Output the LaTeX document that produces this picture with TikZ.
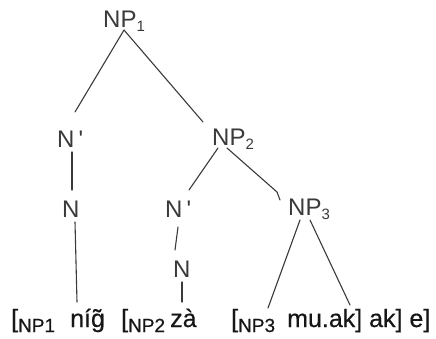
\documentclass[tikz,border=0pt]{standalone}
\usepackage{fontspec}
\setmainfont{Liberation Sans}
\newfontfamily\printface[FakeBold=0.5]{Liberation Sans}
\usetikzlibrary{calc}
\definecolor{ink}{HTML}{3A3A3A}
\definecolor{print}{HTML}{161616}
% small lowered index for the tree labels
\newcommand\treeidx[1]{\raisebox{-0.18em}{\fontsize{15}{15}\selectfont #1}}
% index inside the bracketed string
\newcommand\brkidx[1]{\raisebox{-5pt}{\fontsize{19}{19}\selectfont #1}}
\begin{document}
\begin{tikzpicture}[x=1pt,y=-1pt,
  lab/.style={inner sep=0pt,anchor=base west,text=ink,
    font=\fontsize{24}{24}\selectfont},
  word/.style={inner sep=0pt,anchor=base west,text=print,
    font=\printface\fontsize{25}{25}\selectfont},
  branch/.style={draw=ink,line width=1.1pt,line cap=round,line join=round}]
\useasboundingbox (0,0) rectangle (436,338);

% tree labels
\node[lab] (np1) at (103,27)  {NP\treeidx{1}};
\node[lab] (n1p) at (57,147)  {N\,\textquotesingle};
\node[lab] (n1)  at (62,217)  {N};
\node[lab] (np2) at (212,145) {NP\treeidx{2}};
\node[lab] (n2p) at (165,217) {N\,\textquotesingle};
\node[lab] (n2)  at (173,277) {N};
\node[lab] (np3) at (288,215) {NP\treeidx{3}};

% bracketed string
\node[word] (w0) at (11,327)  {[\brkidx{NP1}};
\node[word] (w1) at (70,327)  {níg̃};
\node[word] (w2) at (121,327) {[\brkidx{NP2}};
\node[word] (w3) at (170,327) {zà};
\node[word] (w4) at (231,327) {[\brkidx{NP3}};
\node[word] (w5) at (287,327) {mu.ak] ak] e]};

% branches
\draw[branch] ($(np1.base west)+(21,3)$) -- ($(n1p.base west)+(18,-35)$);
\draw[branch] ($(np1.base west)+(21,3)$) -- ($(np2.base west)+(-9,-23)$);
\draw[branch] ($(n1p.base west)+(15,5)$) -- ($(n1.base west)+(10,-27)$);
\draw[branch] ($(n1.base west)+(13,5)$)  -- ($(w1.base west)+(7,-25)$);
\draw[branch] ($(np2.base west)+(6,3)$)  -- ($(n2p.base west)+(24,-27)$);
\draw[branch] ($(n2p.base west)+(13,10)$) -- ($(n2.base west)+(2,-27)$);
\draw[branch] ($(n2.base west)+(9,5)$)   -- ($(w3.base west)+(12,-25)$);
\draw[branch] ($(np2.base west)+(15,3)$) -- ($(np3.base west)+(-11,-23)$)
  -- ($(np3.base west)+(-8,-15)$);
\draw[branch] ($(np3.base west)+(12,5)$) -- ($(w4.base west)+(37,-19)$);
\draw[branch] ($(np3.base west)+(22,5)$) -- ($(w5.base west)+(63,-22)$);
\end{tikzpicture}
\end{document}
